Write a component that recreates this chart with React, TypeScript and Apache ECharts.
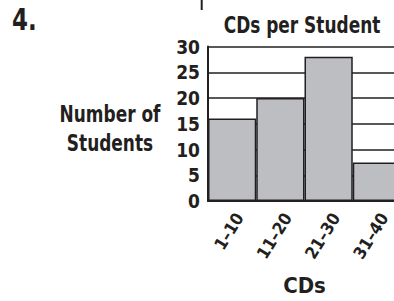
import React, { useEffect, useRef } from "react";
import * as echarts from "echarts";

const categories = ["1–10", "11–20", "21–30", "31–40"];
const students = [16, 20, 28, 7.5];
const yTicks = { min: 0, max: 30, interval: 5 };

const FONT = "'DejaVu Sans Condensed', 'DejaVu Sans', sans-serif";
const INK = "#231f20";

export default function App() {
  const ref = useRef<HTMLDivElement>(null);
  useEffect(() => {
    if (!ref.current) return;
    const chart = echarts.init(ref.current, null, { renderer: "svg" });
    chart.setOption({
      animation: false,
      backgroundColor: "#ffffff",
      grid: { left: 208, top: 46.5, bottom: 95.5, right: 1, containLabel: false },
      xAxis: {
        type: "category",
        data: categories,
        name: "CDs",
        nameLocation: "middle",
        nameGap: 73,
        nameTextStyle: { fontFamily: FONT, fontWeight: "bold", fontSize: 22, color: INK },
        axisLine: { show: true, lineStyle: { color: INK, width: 2 } },
        axisTick: { show: false },
        axisLabel: {
          rotate: 58,
          margin: 9,
          verticalAlign: "top",
          fontFamily: FONT,
          fontWeight: "bold",
          fontSize: 17,
          color: INK,
        },
      },
      yAxis: {
        type: "value",
        min: yTicks.min,
        max: yTicks.max,
        interval: yTicks.interval,
        axisLine: { show: true, lineStyle: { color: INK, width: 2 } },
        axisTick: { show: false },
        axisLabel: { margin: 8, fontFamily: FONT, fontWeight: "bold", fontSize: 19, color: INK },
        splitLine: { show: true, lineStyle: { color: INK, width: 1.5 } },
      },
      series: [
        {
          type: "bar",
          data: students,
          barWidth: "100%",
          barCategoryGap: 0,
          itemStyle: { color: "#bdbec1", borderColor: INK, borderWidth: 1.5 },
        },
      ],
      graphic: [
        {
          type: "text",
          x: 302,
          y: 13,
          scaleX: 0.82,
          style: {
            text: "CDs per Student",
            fontFamily: FONT,
            fontWeight: "bold",
            fontSize: 23,
            align: "center",
            verticalAlign: "top",
            fill: INK,
          },
        },
        {
          type: "text",
          x: 12,
          y: 5,
          scaleX: 0.85,
          style: { text: "4.", fontFamily: FONT, fontWeight: "bold", fontSize: 30, verticalAlign: "top", fill: INK },
        },
        {
          type: "text",
          x: 110,
          y: 99,
          scaleX: 0.82,
          style: {
            text: "Number of\nStudents",
            fontFamily: FONT,
            fontWeight: "bold",
            fontSize: 23,
            lineHeight: 29,
            align: "center",
            verticalAlign: "top",
            fill: INK,
          },
        },
        {
          type: "line",
          shape: { x1: 201.7, y1: 0, x2: 201.7, y2: 10 },
          style: { stroke: INK, lineWidth: 2 },
        },
      ],
    });
    return () => chart.dispose();
  }, []);
  return (
    <div
      ref={ref}
      style={{ position: "fixed", left: 0, top: 0, width: 402, height: 301 }}
    />
  );
}
